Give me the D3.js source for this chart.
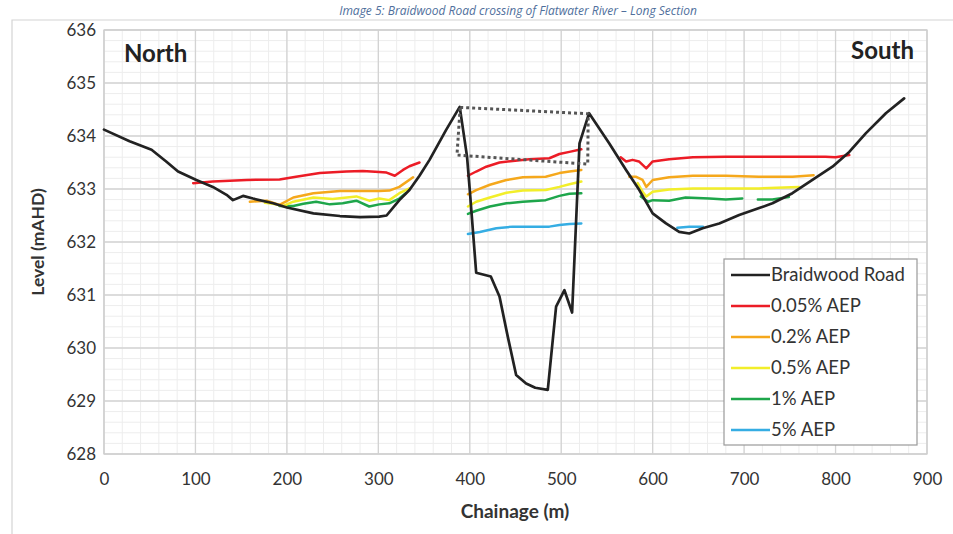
<!DOCTYPE html>
<html><head><meta charset="utf-8">
<script src="https://cdn.jsdelivr.net/npm/d3@7"></script>
<style>
html,body{margin:0;padding:0;background:#fff;}
svg{display:block;font-family:Lato,"Open Sans",sans-serif;}
</style></head>
<body><svg id="chart" width="953" height="534"></svg>
<script>
const chartTitle = "Image 5: Braidwood Road crossing of Flatwater River \u2013 Long Section";
const xTicks = [0,100,200,300,400,500,600,700,800,900];
const yTicks = [628,629,630,631,632,633,634,635,636];
const seriesNames = ["Braidwood Road","0.05% AEP","0.2% AEP","0.5% AEP","1% AEP","5% AEP"];
const seriesColors = ["#222222","#ec1c26","#f5a81c","#f2ee2a","#1ea64b","#35ade3"];

const roadPoints = [[0,634.12],[28,633.9],[52,633.74],[68,633.52],[81,633.33],[101,633.17],[119,633.04],[134,632.89],[141,632.79],[152,632.87],[163,632.82],[185,632.73],[200,632.65],[229,632.54],[258,632.49],[280,632.47],[301,632.48],[309,632.5],[323,632.79],[334,632.98],[345,633.25],[356,633.55],[374,634.11],[389,634.55],[397,633.61],[400,632.98],[407,631.42],[423,631.35],[432.5,630.97],[441.6,630.21],[450.7,629.49],[461.6,629.33],[471.6,629.25],[485.3,629.21],[494.4,630.78],[503.5,631.09],[511.9,630.67],[520,633.86],[530.5,634.43],[552.6,633.86],[570.9,633.36],[585.4,632.98],[600,632.54],[614.6,632.35],[629,632.19],[640,632.16],[654.6,632.26],[672.8,632.35],[694.6,632.51],[716.5,632.64],[731,632.73],[752.8,632.92],[774.7,633.17],[796.6,633.42],[815,633.7],[833,634.05],[855,634.43],[875,634.71]];

const aep005 = [[97.5,633.11],[119,633.14],[156,633.17],[192,633.18],[210,633.23],[236,633.3],[265,633.33],[283,633.34],[301,633.32],[309,633.31],[318,633.25],[327,633.36],[334,633.43],[345,633.5],null,
 [398,633.25],[407,633.33],[418,633.42],[432.5,633.5],[447,633.53],[465,633.56],[487,633.58],[498,633.66],[509,633.7],[522,633.75],null,
 [565,633.6],[571,633.52],[578,633.55],[585,633.52],[593,633.39],[600,633.52],[618,633.56],[644,633.6],[680,633.61],[716,633.61],[753,633.61],[789,633.61],[800,633.6],[815,633.64]];

const aep02 = [[159.5,632.76],[178,632.78],[192,632.7],[207,632.84],[229,632.92],[258,632.96],[283,632.96],[301,632.96],[312,632.97],[323,633.04],[338,633.22],null,
 [398,632.9],[407,632.98],[422,633.08],[440,633.17],[458,633.22],[483,633.23],[498,633.3],[509,633.33],[522,633.36],null,
 [574.5,633.23],[582,633.23],[589,633.17],[593,633.04],[600,633.17],[618,633.22],[644,633.25],[680,633.25],[716,633.23],[753,633.23],[776,633.26]];

const aep05 = [[176,632.74],[185,632.72],[196,632.68],[207,632.76],[229,632.84],[250,632.81],[276,632.86],[290,632.78],[301,632.82],[312,632.79],[323,632.92],[334,633.01],null,
 [398,632.67],[407,632.76],[422,632.84],[440,632.93],[458,632.97],[483,632.98],[498,633.04],[509,633.09],[522,633.14],null,
 [583.6,633.11],[589,632.95],[593,632.86],[600,632.95],[618,632.99],[644,633.01],[680,633.01],[716,633.01],[760,633.04]];

const aep1 = [[192,632.68],[207,632.68],[218,632.72],[232,632.76],[247,632.71],[261,632.73],[276,632.78],[290,632.67],[301,632.71],[312,632.73],[323,632.82],[330,632.92],null,
 [398,632.53],[407,632.59],[422,632.67],[440,632.73],[458,632.76],[483,632.79],[498,632.87],[509,632.91],[522,632.92],null,
 [587,632.86],[595,632.76],[600,632.79],[618,632.78],[636,632.84],[662,632.82],[680,632.8],[698,632.82],null,
 [715,632.8],[731,632.8],[749,632.85]];

const aep5 = [[398,632.15],[411,632.19],[429,632.26],[447,632.29],[465,632.29],[487,632.29],[498,632.32],[509,632.34],[522,632.35],null,
 [627,632.27],[640,632.29],[655,632.29]];

const deckOutline = [[389.5,634.54],[529.5,634.42],[529,633.47],[386,633.64],[389.5,634.54]];

const svg = d3.select("#chart");
const W = 953, H = 534;
const x = d3.scaleLinear().domain([0,900]).range([104,927]);
const y = d3.scaleLinear().domain([628,636]).range([454,30]);

// title
svg.append("text").attr("x",518).attr("y",15).attr("text-anchor","middle")
  .attr("font-size",12).attr("font-style","italic").attr("fill","#4f6f9c")
  .attr("font-family","'Open Sans',sans-serif").text(chartTitle);
// outer frame
svg.append("path").attr("d",`M12,${H+2} L12,20 L${W+2},20`).attr("fill","none").attr("stroke","#d4d4d4").attr("stroke-width",1.2);

// grid
const g = svg.append("g");
const minorX = d3.range(0,901,20), minorY = d3.range(628,636.01,0.2);
g.selectAll(".mx").data(minorX).join("line").attr("x1",d=>x(d)).attr("x2",d=>x(d)).attr("y1",y(628)).attr("y2",y(636)).attr("stroke","#ededed").attr("stroke-width",1);
g.selectAll(".my").data(minorY).join("line").attr("y1",d=>y(d)).attr("y2",d=>y(d)).attr("x1",x(0)).attr("x2",x(900)).attr("stroke","#ededed").attr("stroke-width",1);
g.selectAll(".Mx").data(xTicks).join("line").attr("x1",d=>x(d)).attr("x2",d=>x(d)).attr("y1",y(628)).attr("y2",y(636)).attr("stroke","#d3d3d3").attr("stroke-width",1.3);
g.selectAll(".My").data(yTicks).join("line").attr("y1",d=>y(d)).attr("y2",d=>y(d)).attr("x1",x(0)).attr("x2",x(900)).attr("stroke","#d3d3d3").attr("stroke-width",1.3);
g.append("rect").attr("x",x(0)).attr("y",y(636)).attr("width",x(900)-x(0)).attr("height",y(628)-y(636)).attr("fill","none").attr("stroke","#cfcfcf").attr("stroke-width",1.3);

// axes labels
const xAxis = d3.axisBottom(x).tickValues(xTicks).tickSize(0).tickPadding(0).tickFormat(d3.format("d"));
const xa = svg.append("g").attr("transform",`translate(0,${y(628)+19})`).call(xAxis);
const yAxis = d3.axisLeft(y).tickValues(yTicks).tickSize(0).tickPadding(0).tickFormat(d3.format("d"));
const ya = svg.append("g").attr("transform",`translate(${x(0)-8},0)`).call(yAxis);
[xa,ya].forEach(a=>{a.select(".domain").remove();a.selectAll("text").attr("font-size",17).attr("fill","#333").attr("font-family","Lato,sans-serif");});
xa.selectAll("text").attr("dy","0.71em");

svg.append("text").attr("x",515).attr("y",518).attr("text-anchor","middle").attr("font-size",19).attr("font-weight","bold").attr("fill","#333").text("Chainage (m)");
svg.append("text").attr("transform","translate(44,242) rotate(-90)").attr("text-anchor","middle").attr("font-size",17.5).attr("font-weight","bold").attr("fill","#333").text("Level (mAHD)");

svg.append("text").attr("x",124).attr("y",62).attr("font-size",24).attr("font-weight","bold").attr("fill","#222").text("North");
svg.append("text").attr("x",914).attr("y",59).attr("text-anchor","end").attr("font-size",24).attr("font-weight","bold").attr("fill","#222").text("South");

// lines
const line = d3.line().defined(d=>d!==null).x(d=>x(d[0])).y(d=>y(d[1]));
const seriesData = [roadPoints,aep005,aep02,aep05,aep1,aep5];
const drawOrder = [5,4,3,2,1,0];
drawOrder.forEach(i=>{
  svg.append("path").datum(seriesData[i]).attr("d",line).attr("fill","none")
    .attr("stroke",seriesColors[i]).attr("stroke-width",i===0?2.7:2.5)
    .attr("stroke-linejoin","round").attr("stroke-linecap","round");
});
svg.append("path").datum(deckOutline).attr("d",d3.line().x(d=>x(d[0])).y(d=>y(d[1])))
  .attr("fill","none").attr("stroke","#555").attr("stroke-width",3).attr("stroke-dasharray","3,3");

// legend
const lg = svg.append("g");
lg.append("rect").attr("x",724).attr("y",259).attr("width",193).attr("height",186).attr("fill","#fff").attr("stroke","#9a9a9a").attr("stroke-width",1.2);
seriesNames.forEach((n,i)=>{
  const cy = 275 + i*31;
  lg.append("line").attr("x1",731).attr("x2",770).attr("y1",cy).attr("y2",cy).attr("stroke",seriesColors[i]).attr("stroke-width",2.6);
  lg.append("text").attr("x",771).attr("y",cy).attr("dy","0.35em").attr("font-size",18.5).attr("fill","#333").attr("font-family","Lato,sans-serif").text(n);
});
</script></body></html>
